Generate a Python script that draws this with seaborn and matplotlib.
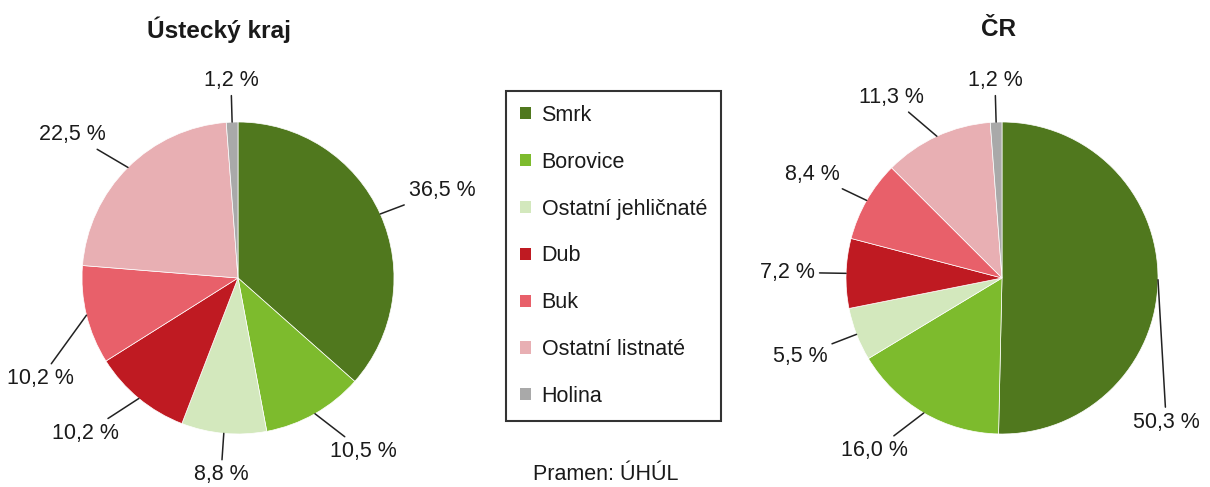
"""
Drevinna skladba lesu - Ustecky kraj vs. CR (dva kolacove grafy)
"""
import numpy as np
import matplotlib
matplotlib.use('Agg')  # bez GUI
import matplotlib.pyplot as plt
from matplotlib.patches import Patch
import seaborn as sns

# ------------------------------------------------------------
# Data (podil v %)
# ------------------------------------------------------------
druhy = ['Smrk', 'Borovice', 'Ostatní jehličnaté', 'Dub', 'Buk',
         'Ostatní listnaté', 'Holina']
ustecky_kraj = [36.5, 10.5, 8.8, 10.2, 10.2, 22.5, 1.2]
cr = [50.3, 16.0, 5.5, 7.2, 8.4, 11.3, 1.2]
barvy_hex = ['#50781e', '#7dbb2d', '#d3e8bd', '#bf1a22', '#e8606a',
             '#e8afb3', '#a9a9a9']

sns.set_theme(style='white')
plt.rcParams['font.family'] = ['Liberation Sans', 'DejaVu Sans']
paleta = sns.color_palette(barvy_hex)

W, H = 1210, 487
R_PX = 156      # polomer kolace v pixelech
L = 1.6         # rozsah os v jednotkach polomeru
FS = 15.5
BARVA_TEXTU = '#1a1a1a'

fig = plt.figure(figsize=(W / 100, H / 100), dpi=100)


def osa_kolace(cx, cy):
    s = 2 * L * R_PX
    ax = fig.add_axes([(cx - s / 2) / W, (H - cy - s / 2) / H, s / W, s / H])
    return ax


def kolac(ax, hodnoty, titulek, tx):
    wedges, _ = ax.pie(hodnoty, colors=paleta, startangle=90, counterclock=False,
                       radius=1, wedgeprops=dict(edgecolor='white', linewidth=0.5))
    ax.set_xlim(-L, L)
    ax.set_ylim(-L, L)
    ax.set_aspect('equal')
    ax.axis('off')

    renderer = fig.canvas.get_renderer()
    for w, v in zip(wedges, hodnoty):
        stred = np.deg2rad((w.theta1 + w.theta2) / 2)
        bod = (np.cos(stred), np.sin(stred))
        uhel = stred
        # smer posunu po obvodu: k nejblizsimu svislemu bodu
        krok = np.deg2rad(3) * (1 if np.sin(stred) >= 0 else -1) * (1 if np.cos(stred) >= 0 else -1)
        popisek = f'{v:.1f} %'.replace('.', ',')
        for _ in range(30):
            x, y = np.cos(uhel), np.sin(uhel)
            ha = 'left' if x > 0.2 else ('right' if x < -0.2 else 'center')
            va = 'bottom' if y > 0.3 else ('top' if y < -0.3 else 'center')
            ann = ax.annotate(popisek, xy=bod, xytext=(1.2 * x, 1.2 * y),
                              ha=ha, va=va, fontsize=FS, color=BARVA_TEXTU,
                              arrowprops=dict(arrowstyle='-', color='#222222',
                                              lw=1.1, shrinkA=1, shrinkB=0))
            bb = ann.get_window_extent(renderer)
            if bb.x1 < W - 4 and bb.x0 > 4:
                break
            # popisek by vypadl z obrazku -> posunout po obvodu
            ann.remove()
            uhel += krok

    fig.text(tx / W, 1 - 30 / H, titulek, ha='center', va='center',
             fontsize=17.6, fontweight='bold', color=BARVA_TEXTU)


ax1 = osa_kolace(238, 278)
kolac(ax1, ustecky_kraj, 'Ústecký kraj', 219)

ax2 = osa_kolace(1002, 278)
kolac(ax2, cr, 'ČR', 999)

# legenda uprostred
handles = [Patch(facecolor=c, edgecolor='none', label=d) for c, d in zip(paleta, druhy)]
leg = fig.legend(handles=handles, loc='upper left', bbox_to_anchor=(506 / W, 1 - 91 / H),
                 frameon=True, fancybox=False, edgecolor='black', fontsize=FS,
                 handlelength=0.5, handleheight=0.5, handletextpad=0.5,
                 labelspacing=1.2, borderpad=0.65, borderaxespad=0)
leg.get_frame().set_linewidth(1.5)
for t in leg.get_texts():
    t.set_color(BARVA_TEXTU)

fig.text(606 / W, 1 - 475 / H, 'Pramen: ÚHÚL', ha='center', va='center',
         fontsize=FS, color=BARVA_TEXTU)

fig.savefig('out.png', dpi=100, facecolor='white')
